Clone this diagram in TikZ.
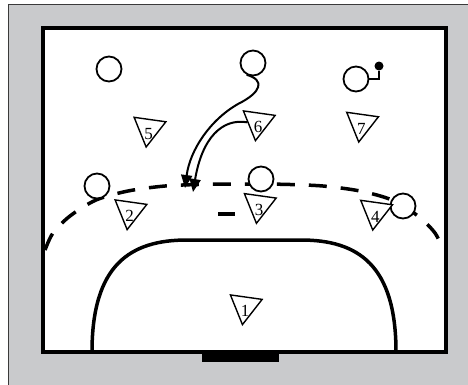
\documentclass[tikz,border=0pt]{standalone}
\usepackage{fontspec}
\setmainfont{Liberation Serif}
\usetikzlibrary{arrows.meta,shapes.geometric}
\definecolor{court}{HTML}{C9CACC}
\definecolor{frame}{HTML}{3A3A3A}
\newcommand{\dnum}[1]{\raisebox{-5pt}[\height][0pt]{#1}}
\tikzset{attacker/.style={circle,draw,fill=white,line width=1.8pt,minimum size=25pt,inner sep=0pt},
  defender/.style={regular polygon,regular polygon sides=3,shape border rotate=172,draw,fill=white,
  line width=1.4pt,minimum size=37pt,inner sep=0pt,font=\fontsize{17}{17}\selectfont},
  run/.style={-{Triangle[length=13pt,width=11pt]},line width=2pt},
  ninem/.style={line width=3.5pt,dash pattern=on 18pt off 14pt},sixm/.style={line width=3.5pt}}

\begin{document}
\begin{tikzpicture}[x=1pt,y=-1pt]
\useasboundingbox (0,0) rectangle (468,384);
\filldraw[fill=court,draw=frame,line width=1.2pt] (8.5,4.5) rectangle (480,400);
\filldraw[fill=white,draw=black,line width=4pt] (42.5,28) rectangle (445.5,352);
\fill (202,352) rectangle (279,362);
\draw[sixm] (92,352) .. controls (92,265) and (130,240) .. (187,240) -- (301,240) .. controls (358,240) and (396,265) .. (396,352);
\draw[ninem] plot[smooth] coordinates {(45,250) (53,233) (70,216) (96,200) (128,191) (165,186) (205,184.3) (244,184)
  (283,184.3) (323,186) (360,191) (392,200) (418,216) (435,233) (443,250)};
\draw[ninem,solid] (218,214) -- (235,214);
\node[attacker] (a1) at (109,69) {};
\node[attacker] (a2) at (253,63) {};
\node[attacker] (a3) at (356,79) {};
\node[attacker] (a4) at (97,186) {};
\node[attacker] (a5) at (261,179) {};
\node[attacker] (a6) at (403,206) {};
\node[circle,fill,minimum size=9pt,inner sep=0pt] (ball) at (379,66) {};
\draw[line width=1.4pt] (a3.east) -| (ball);
\node[defender] (d1) at (245,306.3) {\dnum{1}};
\node[defender] (d2) at (129.7,211.3) {\dnum{2}};
\node[defender] (d3) at (259,205) {\dnum{3}};
\node[defender] (d4) at (375.3,211.7) {\dnum{4}};
\node[defender] (d5) at (148.7,128.7) {\dnum{5}};
\node[defender] (d6) at (258,122.3) {\dnum{6}};
\node[defender] (d7) at (361.3,123.7) {\dnum{7}};
\coordinate (p1) at (185,188);\coordinate (p2) at (193,192);
\draw[run] (a2.242) .. controls (265,80) and (262,92) .. (238,104) .. controls (210,120) and (190,150) .. (p1);
\draw[run] (d6.west) .. controls (222,118) and (202,138) .. (p2);
\end{tikzpicture}
\end{document}
